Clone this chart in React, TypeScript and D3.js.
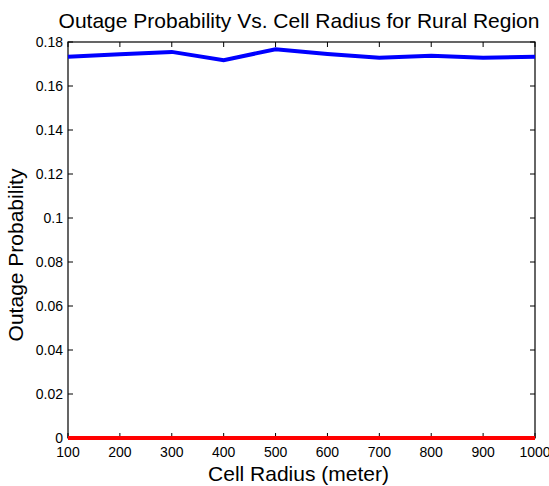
import React from "react";
import * as d3 from "d3";

const radii = [100, 200, 300, 400, 500, 600, 700, 800, 900, 1000];
const outageRural = [0.1733, 0.1744, 0.1755, 0.1717, 0.1767, 0.1745, 0.1728, 0.1738, 0.1728, 0.1733];
const outageZero = [0, 0, 0, 0, 0, 0, 0, 0, 0, 0];
const xTicks = [100, 200, 300, 400, 500, 600, 700, 800, 900, 1000];
const yTicks = [0, 0.02, 0.04, 0.06, 0.08, 0.1, 0.12, 0.14, 0.16, 0.18];

const W = 549, H = 486;
const L = 68, R = 535, T = 42, B = 438;
const FONT = "'Liberation Sans', Arial, sans-serif";

export default function App() {
  const x = d3.scaleLinear().domain([100, 1000]).range([L, R]);
  const y = d3.scaleLinear().domain([0, 0.18]).range([B, T]);
  const line = d3.line<number>().x((_, i) => x(radii[i])).y((d) => y(d));
  const tl = 5;
  return (
    <svg width={W} height={H} style={{ position: "absolute", left: 0, top: 0, background: "#fff" }} fontFamily={FONT}>
      <rect x={0} y={0} width={W} height={H} fill="#fff" />
      <rect x={L} y={T} width={R - L} height={B - T} fill="none" stroke="#000" strokeWidth={1.2} />
      {xTicks.map((t) => (
        <g key={"x" + t}>
          <line x1={x(t)} x2={x(t)} y1={B} y2={B - tl} stroke="#000" />
          <line x1={x(t)} x2={x(t)} y1={T} y2={T + tl} stroke="#000" />
          <text x={x(t)} y={457} textAnchor="middle" fontSize={14} fill="#000">{t}</text>
        </g>
      ))}
      {yTicks.map((t) => (
        <g key={"y" + t}>
          <line x1={L} x2={L + tl} y1={y(t)} y2={y(t)} stroke="#000" />
          <line x1={R} x2={R - tl} y1={y(t)} y2={y(t)} stroke="#000" />
          <text x={63} y={y(t) + 5} textAnchor="end" fontSize={14} fill="#000">{String(t)}</text>
        </g>
      ))}
      <path d={line(outageRural) || ""} fill="none" stroke="#0000ff" strokeWidth={4} />
      <path d={line(outageZero) || ""} fill="none" stroke="#ff0000" strokeWidth={4} />
      <text x={299} y={28} textAnchor="middle" fontSize={21} fill="#000">Outage Probability Vs. Cell Radius for Rural Region</text>
      <text x={298.5} y={481} textAnchor="middle" fontSize={21} fill="#000">Cell Radius (meter)</text>
      <text transform={`translate(23,255) rotate(-90)`} textAnchor="middle" fontSize={21} fill="#000">Outage Probability</text>
    </svg>
  );
}
